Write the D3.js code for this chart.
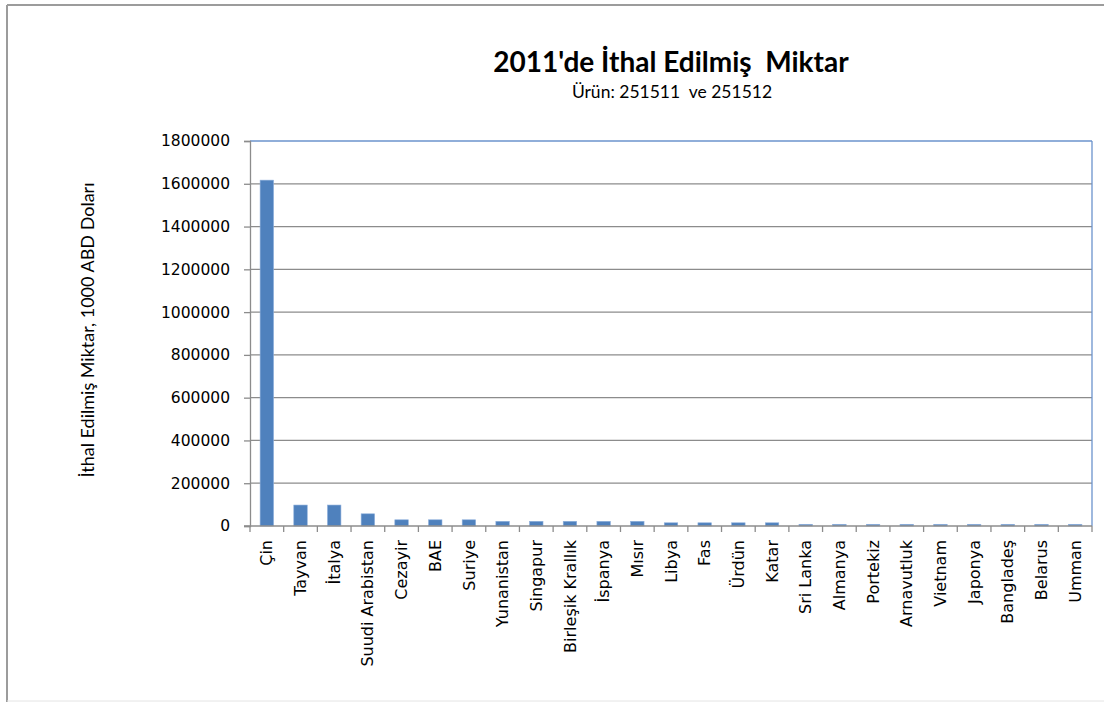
<!DOCTYPE html>
<html>
<head>
<meta charset="utf-8">
<script src="https://cdn.jsdelivr.net/npm/d3@7"></script>
<style>
	body { margin: 0; background: #fff; }
	svg { display: block; }
</style>
</head>
<body>
<div id="chart"></div>
<script>
// data
const countries = ['Çin', 'Tayvan', 'İtalya', 'Suudi Arabistan', 'Cezayir', 'BAE', 'Suriye', 'Yunanistan', 'Singapur',
	'Birleşik Krallık', 'İspanya', 'Mısır', 'Libya', 'Fas', 'Ürdün', 'Katar', 'Sri Lanka', 'Almanya', 'Portekiz',
	'Arnavutluk', 'Vietnam', 'Japonya', 'Bangladeş', 'Belarus', 'Umman']
const imports = [1617000, 98000, 98000, 57000, 29000, 29000, 29000, 22000, 22000,
	22000, 22000, 22000, 15000, 15000, 15000, 15000, 8000, 8000, 8000,
	8000, 8000, 8000, 8000, 8000, 8000]
const yTicks = [0, 200000, 400000, 600000, 800000, 1000000, 1200000, 1400000, 1600000, 1800000]

const title = "2011'de İthal Edilmiş  Miktar"
const subtitle = 'Ürün: 251511  ve 251512'
const yLabel = 'İthal Edilmiş Miktar, 1000 ABD Doları'

const dataset = countries.map((c, i) => ({ country: c, value: imports[i] }))

const W = 1104, H = 702
const plot = { left: 250, right: 1092, top: 141, bottom: 526 }

const svg = d3.select('#chart')
	.append('svg')
	.attr('width', W)
	.attr('height', H)

// outer chart frame
svg.append('line').attr('x1', 7).attr('x2', 7).attr('y1', 5).attr('y2', H).attr('stroke', '#9c9c9c').attr('stroke-width', 2)
svg.append('line').attr('x1', 7).attr('x2', W).attr('y1', 5).attr('y2', 5).attr('stroke', '#9c9c9c').attr('stroke-width', 2)
svg.append('line').attr('x1', 7).attr('x2', W).attr('y1', 701).attr('y2', 701).attr('stroke', '#e4e4e4').attr('stroke-width', 1)

const x = d3.scaleBand()
	.domain(countries)
	.range([plot.left, plot.right])
	.paddingInner(0.6)
	.paddingOuter(0.3)

const xCat = d3.scaleBand()
	.domain(countries)
	.range([plot.left, plot.right])

const y = d3.scaleLinear()
	.domain([0, 1800000])
	.range([plot.bottom, plot.top])

// gridlines
svg.append('g')
	.selectAll('line')
	.data(yTicks.filter(d => d > 0 && d < 1800000))
	.enter()
	.append('line')
	.attr('x1', plot.left)
	.attr('x2', plot.right)
	.attr('y1', d => y(d))
	.attr('y2', d => y(d))
	.attr('stroke', '#8c8c8c')
	.attr('stroke-width', 1.3)

// plot border top / right (blue)
svg.append('line').attr('x1', plot.left).attr('x2', plot.right).attr('y1', y(1800000)).attr('y2', y(1800000))
	.attr('stroke', '#6b93cc').attr('stroke-width', 1.3)
svg.append('line').attr('x1', plot.right).attr('x2', plot.right).attr('y1', y(1800000)).attr('y2', y(0))
	.attr('stroke', '#6b93cc').attr('stroke-width', 1.3)

// bars
svg.append('g')
	.selectAll('rect')
	.data(dataset)
	.enter()
	.append('rect')
	.attr('x', d => x(d.country))
	.attr('y', d => y(d.value))
	.attr('width', x.bandwidth())
	.attr('height', d => y(0) - y(d.value))
	.attr('fill', '#4f81bd')
	.attr('stroke', '#8fb0dc')
	.attr('stroke-width', 0.6)

// y axis
const yAxis = svg.append('g')
	.attr('transform', `translate(${plot.left},0)`)
	.call(d3.axisLeft(y).tickValues(yTicks).tickSize(6).tickPadding(14).tickFormat(d3.format('d')))
yAxis.select('.domain').attr('stroke', '#8c8c8c').attr('stroke-width', 1.3)
yAxis.selectAll('.tick line').attr('stroke', '#8c8c8c').attr('stroke-width', 1.3)
yAxis.selectAll('.tick text')
	.attr('fill', '#000')
	.style('font-family', '"DejaVu Sans", sans-serif')
	.style('font-size', '15.5px')

// x axis line + boundary ticks
svg.append('line')
	.attr('x1', plot.left - 6).attr('x2', plot.right)
	.attr('y1', y(0)).attr('y2', y(0))
	.attr('stroke', '#8c8c8c').attr('stroke-width', 1.3)

svg.append('g')
	.selectAll('line')
	.data(countries.concat(['__end']))
	.enter()
	.append('line')
	.attr('x1', d => d === '__end' ? plot.right : xCat(d))
	.attr('x2', d => d === '__end' ? plot.right : xCat(d))
	.attr('y1', y(0))
	.attr('y2', y(0) + 6)
	.attr('stroke', '#8c8c8c')
	.attr('stroke-width', 1.3)

// x labels rotated
svg.append('g')
	.selectAll('text')
	.data(countries)
	.enter()
	.append('text')
	.attr('transform', d => `translate(${xCat(d) + xCat.bandwidth() / 2},${y(0) + 14}) rotate(-90)`)
	.attr('text-anchor', 'end')
	.attr('dy', '0.35em')
	.style('font-family', '"DejaVu Sans", sans-serif')
	.style('font-size', '16px')
	.text(d => d)

// titles
svg.append('text')
	.attr('x', 671)
	.attr('y', 72)
	.attr('text-anchor', 'middle')
	.style('font-family', 'Lato, sans-serif')
	.style('font-weight', 'bold')
	.style('font-size', '28px')
	.style('white-space', 'pre')
	.text(title)

svg.append('text')
	.attr('x', 672)
	.attr('y', 98)
	.attr('text-anchor', 'middle')
	.style('font-family', 'Lato, sans-serif')
	.style('font-size', '17.5px')
	.style('white-space', 'pre')
	.text(subtitle)

svg.append('text')
	.attr('transform', `translate(94,330) rotate(-90)`)
	.attr('text-anchor', 'middle')
	.style('font-family', 'Lato, sans-serif')
	.style('font-size', '18px')
	.text(yLabel)
</script>
</body>
</html>
